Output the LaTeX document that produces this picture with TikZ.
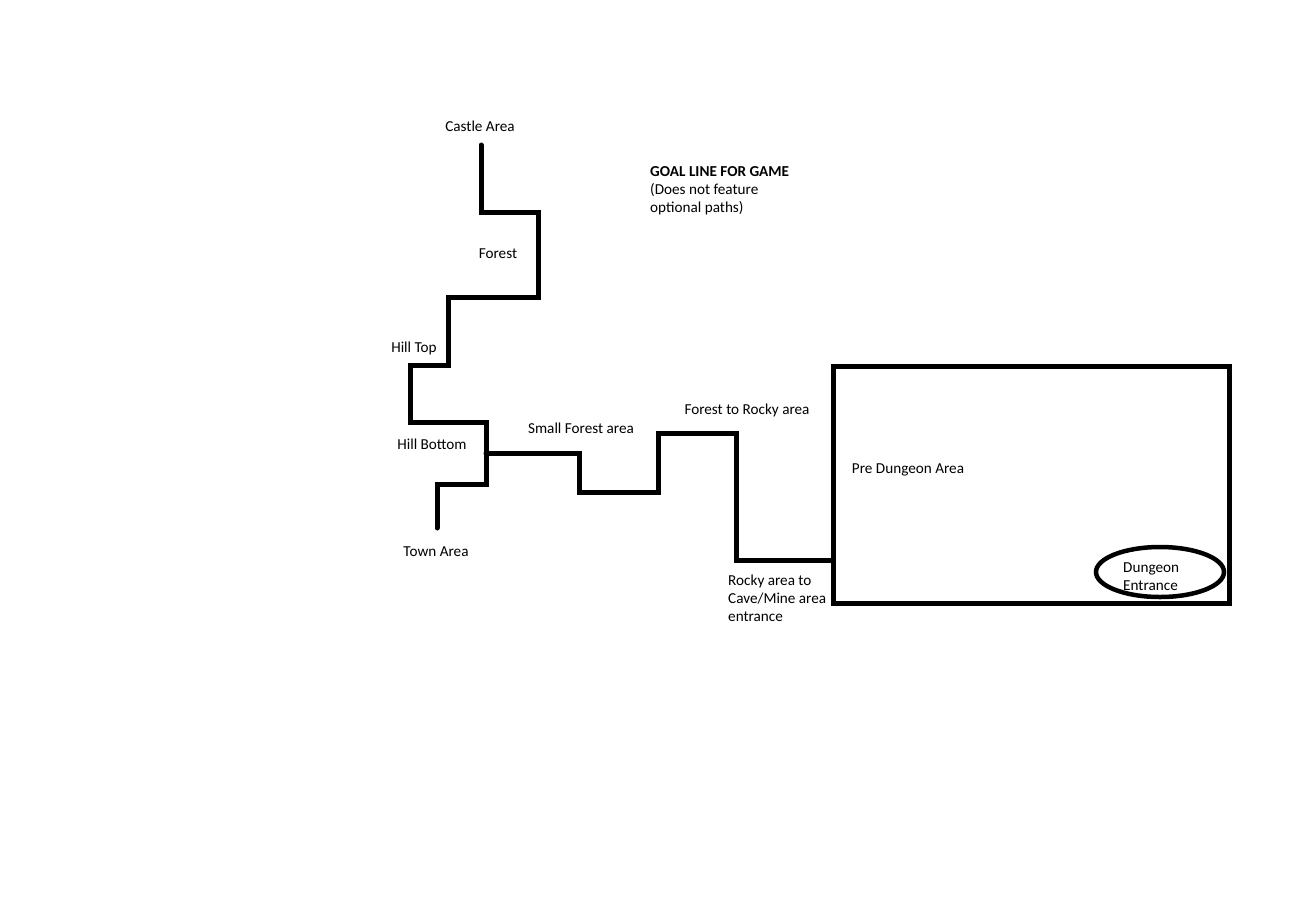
\documentclass[tikz,border=0pt]{standalone}
\usepackage{fontspec}
\setmainfont{Carlito}
\usetikzlibrary{shapes.geometric}
\begin{document}
\begin{tikzpicture}[x=1pt,y=-1pt,
  route/.style={line width=5pt, line cap=round, line join=miter},
  lbl/.style={inner sep=0pt, font=\fontsize{15.2}{18}\selectfont},
  area/.style={draw, line width=5pt, rectangle, inner sep=0pt},
  gate/.style={draw, line width=4.5pt, ellipse, inner sep=0pt},
]
\useasboundingbox[fill=white] (0,0) rectangle (1292,900);

% labels
\node[lbl] (castle) at (480,126.5) {Castle Area};
\node[lbl] (forest) at (498,253.5) {Forest};
\node[lbl] (hilltop) at (414,348.5) {Hill Top};
\node[lbl] (hillbottom) at (432,444.5) {Hill Bottom};
\node[lbl] (town) at (436,551.5) {Town Area};
\node[lbl] (smallforest) at (581,428.5) {Small Forest area};
\node[lbl] (forestrocky) at (747,410.5) {Forest to Rocky area};
\node[lbl, anchor=west, align=left] (rocky) at (728,598.5) {Rocky area to\\Cave/Mine area\\entrance};
\node[lbl, anchor=west, align=left] (goal) at (650,190.5) {\textbf{GOAL LINE FOR GAME}\\(Does not feature\\optional paths)};

% pre-dungeon area and its entrance
\node[area, minimum width=396pt, minimum height=237pt] (box) at (1031,484.5) {};
\node[lbl] (predungeon) at (908,469.5) {Pre Dungeon Area};
\node[gate, minimum width=128pt, minimum height=50pt] (entrance) at (1160,572) {};
\node[lbl, anchor=west, align=left] (entrancetext) at (1123,576.5) {Dungeon\\Entrance};

% route points
\coordinate (c0) at (481,145);
\coordinate (t0) at (437,528);
\coordinate (j) at (486,453);
\coordinate (rk) at (736,560);

% main route from the castle down to the town
\draw[route] (c0) |- (538,212) |- (448,297) |- (410,365) |- (486,422) |- (437,484) -- (t0);

% branch towards the pre-dungeon area
\draw[route] (j) -- (579,453) |- (658,492) |- (736,433) -- (rk) -- (box.west |- rk);
\end{tikzpicture}
\end{document}
